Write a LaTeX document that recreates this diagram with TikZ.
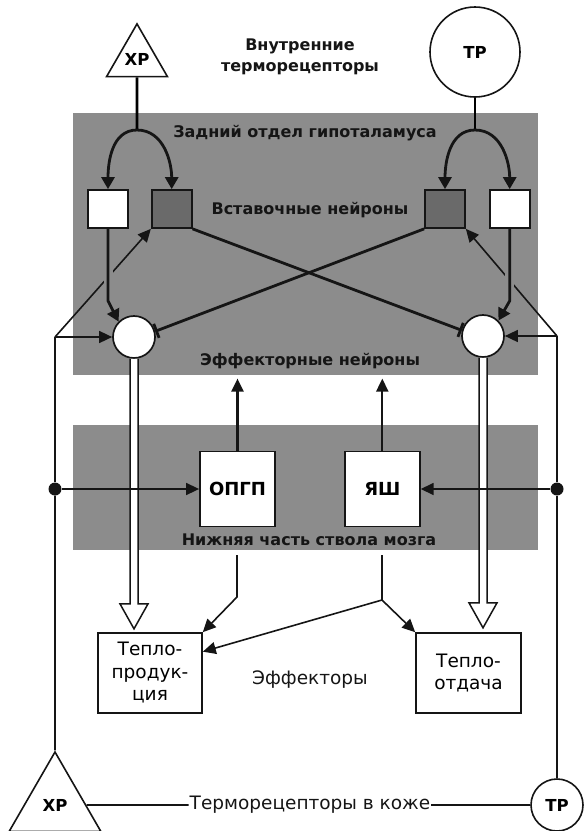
\documentclass[tikz,border=0pt]{standalone}
\usepackage{fontspec}
\setmainfont{DejaVu Sans}
\usepackage{tikz}
\usetikzlibrary{arrows.meta,positioning,shapes.geometric,calc}
\definecolor{ink}{HTML}{151515}
\definecolor{zone}{HTML}{8C8C8C}
\definecolor{cellg}{HTML}{6A6A6A}
\tikzset{
  lbl/.style={font=\fontsize{16}{21}\selectfont\bfseries,text=ink,align=center,inner sep=1pt},
  plain/.style={font=\fontsize{18.5}{22.5}\selectfont,text=ink,align=center,inner sep=1pt},
  cell/.style={draw=ink,fill=white,line width=1.7pt,minimum width=40pt,minimum height=38pt,inner sep=0pt},
  icell/.style={cell,fill=cellg},
  eneu/.style={circle,draw=ink,fill=white,line width=1.7pt,minimum size=42pt,inner sep=0pt},
  centre/.style={draw=ink,fill=white,line width=1.8pt,minimum width=75pt,minimum height=75pt,
    inner sep=0pt,font=\fontsize{18}{21}\selectfont\bfseries},
  effbox/.style={draw=ink,fill=white,line width=1.6pt,minimum width=104pt,minimum height=80pt,
    inner sep=0pt,align=center,font=\fontsize{18.5}{22.5}\selectfont},
  cold/.style={regular polygon,regular polygon sides=3,draw=ink,fill=white,line width=1.6pt,
    inner sep=0pt,font=\fontsize{16.5}{19}\selectfont\bfseries},
  warm/.style={circle,draw=ink,fill=white,line width=1.6pt,inner sep=0pt,
    font=\fontsize{16.5}{19}\selectfont\bfseries},
  dot/.style={circle,fill=ink,minimum size=13pt,inner sep=0pt},
  exc/.style={-{Triangle[length=12pt,width=13pt]},line width=2.8pt,draw=ink},
  inh/.style={-{Bar[width=15pt]},line width=2.8pt,draw=ink},
  aff/.style={line width=1.6pt,draw=ink},
  affx/.style={aff,-{Triangle[length=13pt,width=12pt]}},
  upx/.style={-{Triangle[length=13pt,width=12pt]},line width=2.2pt,draw=ink},
  outp/.style={draw=ink,fill=white,line width=1.5pt},
  node distance=22pt
}

\begin{document}
\begin{tikzpicture}[x=1pt,y=1pt]
  \useasboundingbox (0,0) rectangle (588,-831);
  % brain regions
  \fill[zone] (73,-113) rectangle (538,-375);
  \fill[zone] (73,-425) rectangle (538,-550);
  % receptors
  \node[cold,minimum size=68pt] (xpt) at (137,-59) {ХР};
  \node[warm,minimum size=90pt] (tpt) at (475,-52) {ТР};
  \node[cold,minimum size=106pt] (xpb) at (55,-805) {ХР};
  \node[warm,minimum size=52pt] (tpb) at (557,-805) {ТР};
  % interneurons
  \node[cell] (lw) at (108,-209) {};
  \node[icell,right=22pt of lw] (lg) {};
  \node[icell] (rg) at (445,-209) {};
  \node[cell,right=23pt of rg] (rw) {};
  % effector neurons
  \node[eneu] (lc) at (134,-337) {};
  \node[eneu] (rc) at (483,-336) {};
  % lower brainstem
  \node[centre] (opgp) at (237.5,-489) {ОПГП};
  \node[centre,right=68pt of opgp] (yash) {ЯШ};
  % effectors
  \node[effbox] (prod) at (150,-673) {Тепло-\\продук-\\ция};
  \node[effbox,minimum width=105pt] (otd) at (468.5,-673) {Тепло-\\отдача};
  % labels
  \node[lbl] (inner) at (300,-57) {Внутренние\\терморецепторы};
  \node[lbl] (hyp) at (305,-133) {Задний отдел гипоталамуса};
  \node[lbl] (inter) at (310,-210) {Вставочные нейроны};
  \node[lbl] (effn) at (310,-361) {Эффекторные нейроны};
  \node[lbl] (stem) at (309,-540) {Нижняя часть ствола мозга};
  \node[plain] (efft) at (310,-680) {Эффекторы};
  \node[plain] (skin) at (310,-805) {Терморецепторы в коже};
  % branch points
  \coordinate (j1) at (137,-130);
  \coordinate (j2) at (475,-130);
  \coordinate (fl) at (55,-337);
  \coordinate (fr) at (557,-336);
  \node[dot] (dl) at (55,-489) {};
  \node[dot] (dr) at (557,-489) {};
  \coordinate (ol) at (237,-555);
  \coordinate (ob) at (237,-597);
  \coordinate (yl) at (382,-555);
  \coordinate (yb) at (382,-600);

  \draw[line width=2.8pt] (xpt.south) -- (j1);
  \draw[exc] (j1) to[out=180,in=90] (lw.north);
  \draw[exc] (j1) to[out=0,in=90] (lg.north);
  \draw[line width=2.8pt] (tpt.south) -- (j2);
  \draw[exc] (j2) to[out=180,in=90] (rg.north);
  \draw[exc] (j2) to[out=0,in=90] (rw.north);

  \draw[affx] (fl) -- (lg.south west);
  \draw[affx] (fr) -- (rg.south east);
  \draw[affx] (fl) -- (lc.west);
  \draw[affx] (fr) -- (rc.east);
  \draw[zone,line width=9pt] (lw.south) ++(0,-20) -- ++(0,-40);
  \draw[zone,line width=9pt] (rw.south) ++(0,-20) -- ++(0,-40);
  \draw[exc] (lw.south) -- ++(0,-72) -- (lc.135);
  \draw[exc] (rw.south) -- ++(0,-72) -- (rc.45);
  \draw[inh] (lg.south east) -- (rc.165);
  \draw[inh] (rg.south west) -- (lc.15);

  \foreach \c in {lc,rc}
    \draw[outp] (\c.south) ++(-4,0) -- ++(0,-245) -- ++(-10,0) -- ++(14,-25)
      -- ++(14,25) -- ++(-10,0) -- ++(0,245);

  \draw[aff] (xpb.north) -- (dl);
  \draw[aff] (dl) -- (fl);
  \draw[aff] (tpb.north) -- (dr);
  \draw[aff] (dr) -- (fr);
  \draw[affx] (dl) -- (opgp.west);
  \draw[affx] (dr) -- (yash.east);
  \draw[upx] (opgp.north) -- ++(0,72);
  \draw[upx] (yash.north) -- ++(0,72);

  \draw[affx] (ol) -- (ob) -- (prod.north east);
  \draw[affx] (yl) -- (yb) -- (otd.north west);
  \draw[affx] (yb) -- (prod.22);

  \draw[aff] (xpb.east) -- (skin.west);
  \draw[aff] (skin.east) -- (tpb.west);
\end{tikzpicture}
\end{document}
